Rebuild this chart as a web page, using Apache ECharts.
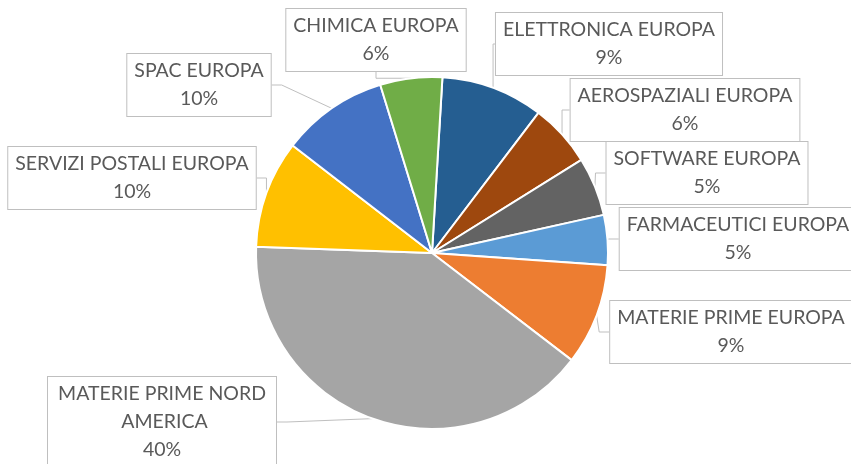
<!DOCTYPE html>
<html>
<head>
<meta charset="utf-8">
<script src="https://cdn.jsdelivr.net/npm/echarts@6/dist/echarts.min.js"></script>
<style>
html,body{margin:0;padding:0;background:#fff;}
#chart{width:851px;height:464px;}
</style>
</head>
<body>
<div id="chart"></div>
<script>
// Data (clockwise from the top)
var categories = [
  'ELETTRONICA EUROPA',
  'AEROSPAZIALI EUROPA',
  'SOFTWARE EUROPA',
  'FARMACEUTICI EUROPA',
  'MATERIE PRIME EUROPA',
  'MATERIE PRIME NORD AMERICA',
  'SERVIZI POSTALI EUROPA',
  'SPAC EUROPA',
  'CHIMICA EUROPA'
];
var values = [9.4, 5.8, 5.4, 4.6, 9.3, 40.2, 9.9, 9.8, 5.7];

// Styles
var colors = ['#255E91', '#9E480E', '#636363', '#5B9BD5', '#ED7D31', '#A5A5A5', '#FFC000', '#4472C4', '#70AD47'];
var labelCenters = [
  [609, 44], [685, 110], [707, 173], [738, 239], [731, 332],
  [162, 422], [132, 178], [199, 85], [376, 40]
];

var total = values.reduce(function (a, b) { return a + b; }, 0);

var chart = echarts.init(document.getElementById('chart'), null, {renderer: 'canvas'});
var FONT = 'Lato';

chart.setOption({
  animation: false,
  backgroundColor: '#ffffff',
  series: [{
    type: 'pie',
    center: [432, 253],
    radius: 176,
    startAngle: 86.6,
    clockwise: true,
    avoidLabelOverlap: false,
    itemStyle: {borderColor: '#ffffff', borderWidth: 2},
    label: {
      show: true,
      position: 'outside',
      formatter: function (p) {
        return p.name + '\n' + Math.round(p.value / total * 100) + '%';
      },
      fontFamily: FONT,
      fontSize: 19.5,
      lineHeight: 28,
      color: '#595959',
      align: 'center',
      backgroundColor: '#ffffff',
      borderColor: '#BFBFBF',
      borderWidth: 1,
      padding: [3, 7, 3, 7]
    },
    labelLine: {
      show: true,
      length: 10,
      length2: 10,
      lineStyle: {color: '#BFBFBF', width: 1}
    },
    labelLayout: function (params) {
      var c = labelCenters[params.dataIndex];
      return {x: c[0], y: c[1], align: 'center', verticalAlign: 'middle'};
    },
    data: categories.map(function (n, i) {
      var item = {name: n, value: values[i], itemStyle: {color: colors[i]}};
      if (n === 'MATERIE PRIME NORD AMERICA') {
        item.label = {width: 214, overflow: 'break'};
      }
      return item;
    })
  }]
});
</script>
</body>
</html>
